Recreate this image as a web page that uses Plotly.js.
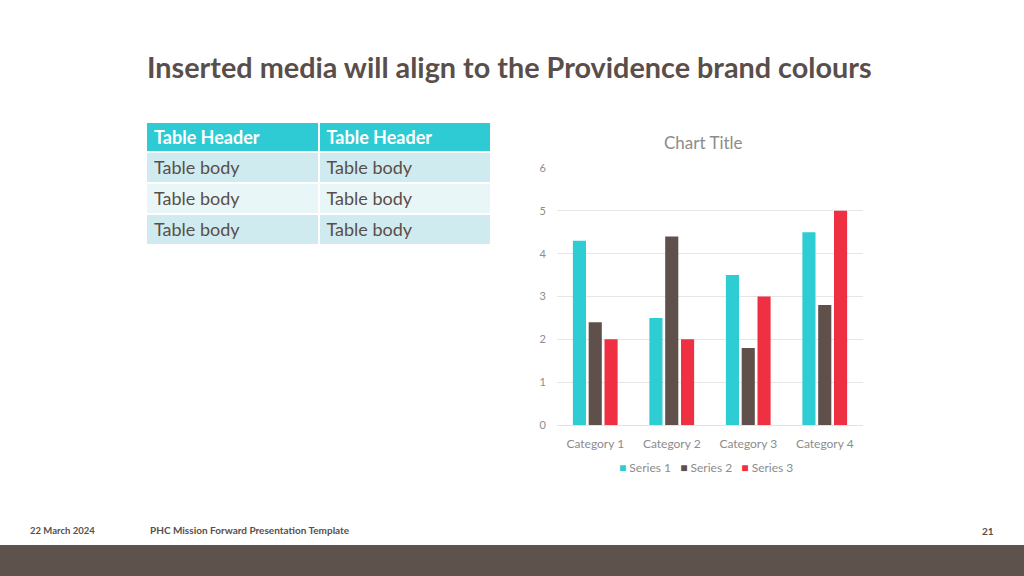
<!DOCTYPE html>
<html>
<head>
<meta charset="utf-8">
<script src="https://cdn.plot.ly/plotly-3.0.1.min.js"></script>
<style>
html,body{margin:0;padding:0;background:#fff;}
#chart{width:1024px;height:576px;}
</style>
</head>
<body>
<div id="chart"></div>
<script>
const categories = ["Category 1", "Category 2", "Category 3", "Category 4"];
const seriesNames = ["Series 1", "Series 2", "Series 3"];
const series1 = [4.3, 2.5, 3.5, 4.5];
const series2 = [2.4, 4.4, 1.8, 2.8];
const series3 = [2, 2, 3, 5];
const seriesColors = ["#2ECCD3", "#5F504B", "#EE3042"];

const tableHeaders = ["Table Header", "Table Header"];
const tableCol1 = ["Table body", "Table body", "Table body"];
const tableCol2 = ["Table body", "Table body", "Table body"];

const W = 1024, H = 576;
const px = v => v / W;
const py = v => 1 - v / H;

const font = "Lato, 'Open Sans', sans-serif";
const rowColors = ["#CFEBEF", "#E8F6F8", "#CFEBEF"];

const traces = [
  {
    type: "table",
    domain: {x: [px(146), px(491)], y: [py(250), py(122)]},
    columnwidth: [1, 1],
    header: {
      values: tableHeaders,
      align: "left",
      height: 30,
      fill: {color: "#2ECBD4"},
      line: {color: "#ffffff", width: 2},
      font: {family: font, size: 18, color: "#ffffff", weight: "bold"}
    },
    cells: {
      values: [tableCol1, tableCol2],
      align: "left",
      height: 31,
      fill: {color: [rowColors, rowColors]},
      line: {color: "#ffffff", width: 2},
      font: {family: font, size: 18, color: "#5A4E4A"}
    }
  }
];
[series1, series2, series3].forEach((vals, i) => {
  traces.push({type: "bar", name: seriesNames[i], x: categories, y: vals,
    marker: {color: seriesColors[i]}, xaxis: "x", yaxis: "y", showlegend: false});
});

// Compact legend (built from series names and colours)
const legendText = seriesNames.map((n, i) =>
  "<span style='color:" + seriesColors[i] + "'>■</span> " + n).join("&nbsp;&nbsp;&nbsp;");

const layout = {
  width: W, height: H,
  margin: {l: 0, r: 0, t: 0, b: 0},
  paper_bgcolor: "#ffffff",
  plot_bgcolor: "#ffffff",
  showlegend: false,
  barmode: "group",
  bargap: 0.38,
  bargroupgap: 0.17,
  font: {family: font, color: "#8C8C8C"},
  xaxis: {
    domain: [px(557), px(863)],
    anchor: "y",
    showgrid: false,
    showline: true,
    linecolor: "#E3E3E3",
    linewidth: 1,
    ticks: "",
    ticklabelstandoff: 8,
    tickfont: {size: 12, color: "#8C8C8C", family: font},
    fixedrange: true
  },
  yaxis: {
    domain: [py(425), py(168)],
    anchor: "x",
    range: [0, 6],
    dtick: 1,
    showgrid: true,
    gridcolor: "#E6E6E6",
    zeroline: false,
    showline: false,
    ticks: "",
    ticklabelstandoff: 10,
    tickfont: {size: 11, color: "#8C8C8C", family: font},
    fixedrange: true
  },
  shapes: [
    {type: "rect", xref: "paper", yref: "paper", x0: 0, x1: 1, y0: 0, y1: 31 / H, fillcolor: "#5E524D", line: {width: 0}, layer: "below"}
  ],
  annotations: [
    {text: "<b>Inserted media will align to the Providence brand colours</b>", xref: "paper", yref: "paper",
     x: px(145), y: py(67), xanchor: "left", yanchor: "middle", showarrow: false,
     font: {family: font, size: 28.8, color: "#5A4E4A"}},
    {text: "Chart Title", xref: "paper", yref: "paper", x: px(703), y: py(142), xanchor: "center", yanchor: "middle",
     showarrow: false, font: {family: font, size: 17, color: "#8C8C8C"}},
    {text: legendText, xref: "paper", yref: "paper", x: px(706), y: py(467), xanchor: "center", yanchor: "middle",
     showarrow: false, font: {family: font, size: 12, color: "#8C8C8C"}},
    {text: "<b>22 March 2024</b>", xref: "paper", yref: "paper", x: px(28), y: py(530), xanchor: "left", yanchor: "middle",
     showarrow: false, font: {family: font, size: 9.5, color: "#5A4E4A"}},
    {text: "<b>PHC Mission Forward Presentation Template</b>", xref: "paper", yref: "paper", x: px(148), y: py(530), xanchor: "left", yanchor: "middle",
     showarrow: false, font: {family: font, size: 10, color: "#5A4E4A"}},
    {text: "<b>21</b>", xref: "paper", yref: "paper", x: px(996), y: py(531), xanchor: "right", yanchor: "middle",
     showarrow: false, font: {family: font, size: 10, color: "#5A4E4A"}}
  ]
};

Plotly.newPlot("chart", traces, layout, {displayModeBar: false, staticPlot: true});
</script>
</body>
</html>
